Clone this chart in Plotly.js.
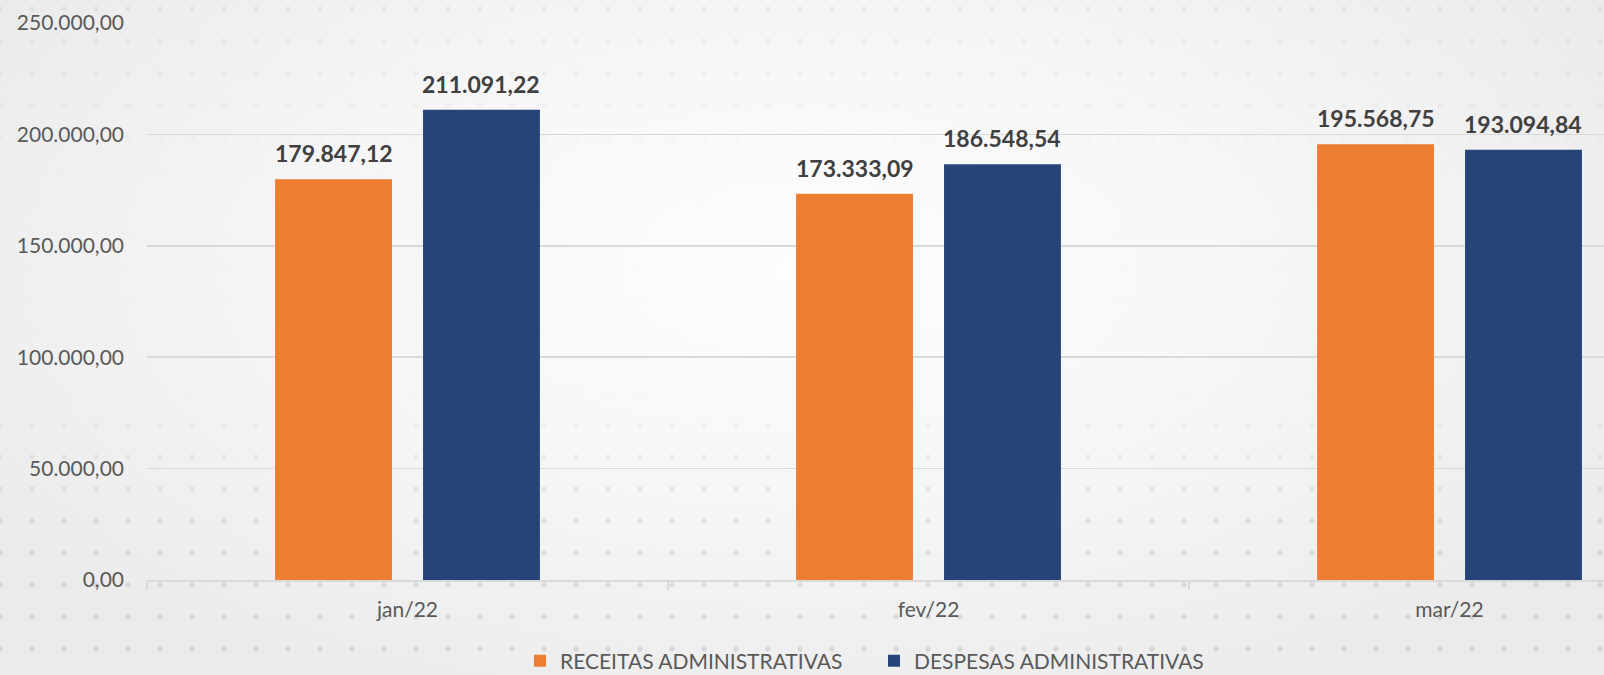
<!DOCTYPE html>
<html>
<head>
<meta charset="utf-8">
<script src="https://cdn.plot.ly/plotly-3.0.1.min.js"></script>
<style>
  html, body { margin: 0; padding: 0; width: 1604px; height: 675px; overflow: hidden; }
  body {
    background: radial-gradient(ellipse 60% 70% at 50% 40%, #fdfdfd 0%, #f6f6f6 50%, #ebebeb 100%);
    position: relative;
  }
  #dots {
    position: absolute; left: 0; top: 0; width: 1604px; height: 675px;
    background-image: radial-gradient(circle, rgba(0,0,0,0.10) 2.2px, rgba(0,0,0,0) 3px);
    background-size: 32px 32px;
    background-position: -16px -7px;
    -webkit-mask-image: linear-gradient(to bottom, rgba(0,0,0,0.5) 0%, rgba(0,0,0,0.1) 25%, rgba(0,0,0,0.05) 55%, rgba(0,0,0,0.8) 78%, rgba(0,0,0,1) 100%);
    mask-image: linear-gradient(to bottom, rgba(0,0,0,0.5) 0%, rgba(0,0,0,0.1) 25%, rgba(0,0,0,0.05) 55%, rgba(0,0,0,0.8) 78%, rgba(0,0,0,1) 100%);
  }
  #chart { position: absolute; left: 0; top: 0; width: 1604px; height: 675px; }
</style>
</head>
<body>
<div id="dots"></div>
<div id="chart"></div>
<script>
const categories = ["jan/22", "fev/22", "mar/22"];
const receitas = [179847.12, 173333.09, 195568.75];
const despesas = [211091.22, 186548.54, 193094.84];
const seriesNames = ["RECEITAS ADMINISTRATIVAS", "DESPESAS ADMINISTRATIVAS"];
const yTicks = [0, 50000, 100000, 150000, 200000, 250000];

const FONT = "Lato, 'Open Sans', sans-serif";
const W = 1604, H = 675;
const ML = 147, MR = 0, MT = 23, MB = 95;
const catPx = 521;                 // pixel width of one category
const bargap = 0.432, bargroupgap = 0.21;
const plotW = W - ML - MR;
const plotH = H - MT - MB;
const xMax = -0.5 + plotW / catPx;
const slotPx = catPx * (1 - bargap) / 2;

function fmt(v) {
  const s = v.toFixed(2).split(".");
  return s[0].replace(/\B(?=(\d{3})+(?!\d))/g, ".") + "," + s[1];
}

const colors = ["#ED7D31", "#264478"];
const data = [receitas, despesas].map((vals, i) => ({
  type: "bar",
  name: seriesNames[i],
  x: categories,
  y: vals,
  marker: { color: colors[i], line: { width: 0 } },
  hoverinfo: "none"
}));

const annotations = [];
[receitas, despesas].forEach((vals, i) => {
  vals.forEach((v, j) => {
    annotations.push({
      x: categories[j], y: v, xref: "x", yref: "y",
      xshift: (i === 0 ? -1 : 1) * slotPx / 2,
      yshift: 10,
      yanchor: "bottom", xanchor: "center",
      showarrow: false,
      text: fmt(v),
      font: { family: FONT, size: 23, color: "#404040", weight: "bold" }
    });
  });
});

const legendLeftPx = 520;
const legendMidPx = 661;

const layout = {
  width: W, height: H,
  margin: { l: ML, r: MR, t: MT, b: MB, pad: 0, autoexpand: false },
  paper_bgcolor: "rgba(0,0,0,0)",
  plot_bgcolor: "rgba(0,0,0,0)",
  separators: ",.",
  barmode: "group",
  bargap: bargap,
  bargroupgap: bargroupgap,
  showlegend: true,
  legend: {
    orientation: "h",
    x: (legendLeftPx - ML) / plotW, xanchor: "left",
    y: (H - MB - legendMidPx) / plotH, yanchor: "middle",
    font: { family: FONT, size: 21, color: "#595959" },
    bgcolor: "rgba(0,0,0,0)",
    itemwidth: 30,
    entrywidth: 309,
    entrywidthmode: "pixels",
    traceorder: "normal"
  },
  xaxis: {
    type: "category",
    range: [-0.5, xMax],
    showgrid: false,
    showline: true, linecolor: "#d9d9d9", linewidth: 1.5,
    ticks: "outside", tickson: "boundaries", ticklen: 8, tickcolor: "#d9d9d9", tickwidth: 1.5,
    tickfont: { family: FONT, size: 21, color: "#595959" },
    ticklabelstandoff: 10,
    zeroline: false,
    fixedrange: true
  },
  yaxis: {
    range: [0, 250000],
    tickvals: yTicks,
    tickformat: ",.2f",
    showgrid: true, gridcolor: "#d9d9d9", gridwidth: 1.5,
    showline: false, zeroline: false,
    ticks: "",
    tickfont: { family: FONT, size: 21, color: "#595959" },
    ticklabelstandoff: 22,
    fixedrange: true
  },
  annotations: annotations,
  font: { family: FONT }
};

Plotly.newPlot("chart", data, layout, { displayModeBar: false, staticPlot: true });
</script>
</body>
</html>
